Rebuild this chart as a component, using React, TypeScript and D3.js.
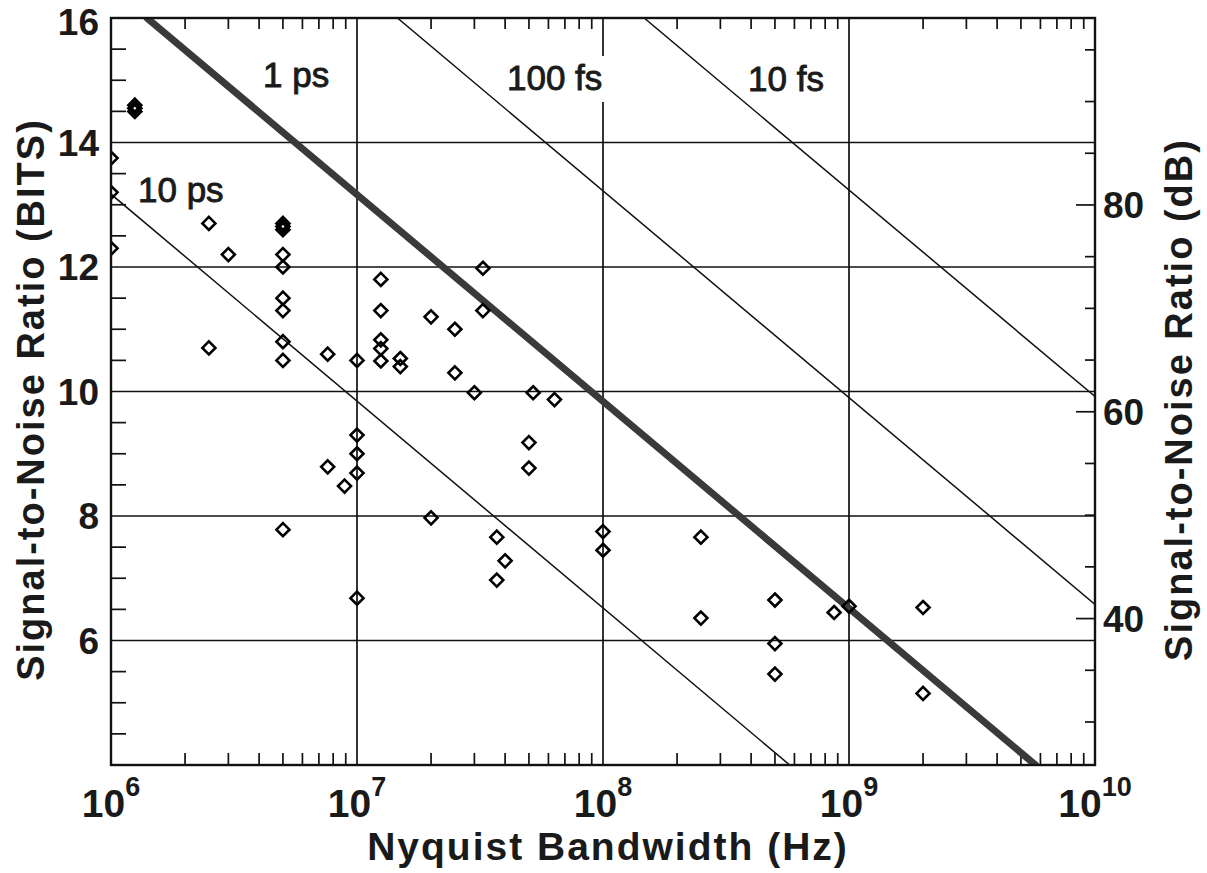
import React from 'react';
import * as d3 from 'd3';

// ---------- data ----------
const pointFreqHz = [
  1e6, 1e6, 1e6,
  1.25e6, 1.25e6, 1.25e6,
  2.5e6, 3e6, 2.5e6,
  5e6, 5e6, 5e6, 5e6, 5e6, 5e6, 5e6, 5e6, 5e6, 5e6,
  7.6e6, 7.6e6, 8.9e6,
  1e7, 1e7, 1e7, 1e7, 1e7,
  1.25e7, 1.25e7, 1.25e7, 1.25e7, 1.25e7,
  1.5e7, 1.5e7,
  2e7, 2e7,
  2.5e7, 2.5e7,
  3e7, 3.25e7, 3.25e7,
  3.7e7, 3.7e7, 4e7,
  5e7, 5e7, 5.2e7, 6.35e7,
  1e8, 1e8,
  2.5e8, 2.5e8,
  5e8, 5e8, 5e8,
  8.7e8, 1e9,
  2e9, 2e9,
];
const pointBits = [
  13.75, 13.2, 12.3,
  14.6, 14.5, 14.55,
  12.7, 12.2, 10.7,
  12.7, 12.65, 12.6, 12.2, 12.0, 11.5, 11.3, 10.8, 10.5, 7.78,
  10.6, 8.79, 8.48,
  10.5, 9.3, 9.0, 8.69, 6.68,
  11.8, 11.3, 10.83, 10.69, 10.49,
  10.53, 10.4,
  11.2, 7.97,
  11.0, 10.3,
  9.98, 11.98, 11.3,
  7.66, 6.97, 7.28,
  9.18, 8.77, 9.98, 9.87,
  7.75, 7.45,
  7.66, 6.36,
  6.65, 5.95, 5.46,
  6.45, 6.55,
  6.53, 5.15,
];

const jitterNames = ['10 ps', '1 ps', '100 fs', '10 fs'];
const jitterStartHz = [1e6, 1.4e6, 1.46e7, 1.47e8];
const jitterStartBits = [13.17, 16, 16, 16];
const jitterEndHz = [5.74e8, 5.73e9, 1e10, 1e10];
const jitterEndBits = [4, 4, 6.58, 9.92];

const bitTicks = [6, 8, 10, 12, 14, 16];
const decadeExponents = [6, 7, 8, 9, 10];
const dbMajorTicks = [40, 60, 80];
const dbMinorTicks = [30, 35, 45, 50, 55, 65, 70, 75, 85, 90, 95];

// ---------- layout ----------
const W = 1207;
const H = 873;
const X0 = 111;
const X1 = 1095;
const Y0 = 765;
const Y1 = 18;
const FONT = '"Liberation Sans", Arial, Helvetica, sans-serif';
const TICK_FS = 37;

const x = d3.scaleLog().domain([1e6, 1e10]).range([X0, X1]);
const y = d3.scaleLinear().domain([4, 16]).range([Y0, Y1]);
const dbToBits = (db: number) => (db - 1.76) / 6.02;

const labelPos: Record<string, { x: number; y: number; w: number }> = {
  '10 ps': { x: 138, y: 202, w: 98 },
  '1 ps': { x: 263, y: 87, w: 76 },
  '100 fs': { x: 507, y: 90, w: 104 },
  '10 fs': { x: 748, y: 91, w: 86 },
};

export default function App() {
  const minorX: number[] = [];
  for (let d = 6; d < 10; d++) for (let m = 2; m <= 9; m++) minorX.push(m * Math.pow(10, d));
  const minorBits = d3.range(4.5, 16, 0.5).filter((b) => b % 2 !== 0);
  const line = d3
    .line<[number, number]>()
    .x((p) => x(p[0]))
    .y((p) => y(p[1]));
  const diamond = (r: number) => `M0,${-r}L${r},0L0,${r}L${-r},0Z`;

  return (
    <svg
      width={W}
      height={H}
      style={{ position: 'absolute', left: 0, top: 0, background: '#fff' }}
      fontFamily={FONT}
    >
      <defs>
        <clipPath id="plot">
          <rect x={X0} y={Y1} width={X1 - X0} height={Y0 - Y1} />
        </clipPath>
      </defs>
      <rect x={0} y={0} width={W} height={H} fill="#fff" />

      {/* grid */}
      {bitTicks
        .filter((b) => b > 4 && b < 16)
        .map((b) => (
          <line key={'gh' + b} x1={X0} x2={X1} y1={y(b)} y2={y(b)} stroke="#111" strokeWidth={1.7} />
        ))}
      {[1e7, 1e8, 1e9].map((f) => (
        <line key={'gv' + f} x1={x(f)} x2={x(f)} y1={Y0} y2={Y1} stroke="#111" strokeWidth={1.7} />
      ))}

      {/* minor ticks */}
      {minorX.map((f) => (
        <g key={'mx' + f}>
          <line x1={x(f)} x2={x(f)} y1={Y0} y2={Y0 - 12} stroke="#111" strokeWidth={1.7} />
          <line x1={x(f)} x2={x(f)} y1={Y1} y2={Y1 + 11} stroke="#111" strokeWidth={1.7} />
        </g>
      ))}
      {minorBits.map((b) => (
        <line key={'mb' + b} x1={X0} x2={X0 + 15} y1={y(b)} y2={y(b)} stroke="#111" strokeWidth={1.7} />
      ))}
      {dbMinorTicks.map((db) => (
        <line key={'dm' + db} x1={X1} x2={X1 - 10} y1={y(dbToBits(db))} y2={y(dbToBits(db))} stroke="#111" strokeWidth={1.7} />
      ))}
      {dbMajorTicks.map((db) => (
        <line key={'dM' + db} x1={X1} x2={X1 - 19} y1={y(dbToBits(db))} y2={y(dbToBits(db))} stroke="#111" strokeWidth={1.7} />
      ))}

      {/* label backgrounds */}
      {jitterNames.map((n) => {
        const p = labelPos[n];
        return <rect key={'lb' + n} x={p.x - 3} y={p.y - 34} width={p.w} height={46} fill="#fff" />;
      })}

      {/* jitter lines */}
      <g clipPath="url(#plot)">
        {jitterNames.map((n, i) => (
          <path
            key={'jl' + n}
            d={line([
              [jitterStartHz[i], jitterStartBits[i]],
              [jitterEndHz[i], jitterEndBits[i]],
            ]) as string}
            fill="none"
            stroke={n === '1 ps' ? '#3a3a3a' : '#111'}
            strokeWidth={n === '1 ps' ? 7 : 1.5}
            strokeLinecap="round"
          />
        ))}
      </g>

      {jitterNames.map((n) => {
        const p = labelPos[n];
        return (
          <text key={'lt' + n} x={p.x} y={p.y} fontSize={35} fill="#1a1a1a" stroke="#1a1a1a" strokeWidth={0.9}>
            {n}
          </text>
        );
      })}

      {/* data points */}
      <g clipPath="url(#plot)">
        {pointFreqHz.map((f, i) => (
          <path
            key={'pt' + i}
            d={diamond(6.5)}
            transform={`translate(${x(f)},${y(pointBits[i])})`}
            fill="none"
            stroke="#000"
            strokeWidth={2.6}
          />
        ))}
      </g>

      {/* frame */}
      <rect x={X0} y={Y1} width={X1 - X0} height={Y0 - Y1} fill="none" stroke="#111" strokeWidth={2.4} />

      {/* left tick labels */}
      {bitTicks.map((b) => (
        <text
          key={'bl' + b}
          x={X0 - 12}
          y={Math.max(y(b) + 13, TICK_FS * 0.91 + 1)}
          textAnchor="end"
          fontSize={TICK_FS}
          fontWeight="bold"
          fill="#1a1a1a"
        >
          {b}
        </text>
      ))}
      {/* right tick labels */}
      {dbMajorTicks.map((db) => (
        <text key={'dl' + db} x={X1 + 8} y={y(dbToBits(db)) + 13} textAnchor="start" fontSize={TICK_FS} fontWeight="bold" fill="#1a1a1a">
          {db}
        </text>
      ))}
      {/* bottom tick labels */}
      {decadeExponents.map((e) => (
        <text key={'xl' + e} x={x(Math.pow(10, e))} y={817} textAnchor="middle" fontWeight="bold" fill="#1a1a1a">
          <tspan fontSize={39}>10</tspan>
          <tspan fontSize={27} dy={-21}>
            {e}
          </tspan>
        </text>
      ))}

      {/* axis titles */}
      <text x={(X0 + X1) / 2 + 5} y={860} textAnchor="middle" fontSize={39} fontWeight="bold" letterSpacing={2} fill="#1a1a1a">
        Nyquist Bandwidth (Hz)
      </text>
      <text
        transform={`translate(44, ${(Y0 + Y1) / 2 + 8}) rotate(-90)`}
        textAnchor="middle"
        fontSize={38}
        fontWeight="bold"
        letterSpacing={2}
        fill="#1a1a1a"
      >
        Signal-to-Noise Ratio (BITS)
      </text>
      <text
        transform={`translate(1192, ${(Y0 + Y1) / 2 + 8}) rotate(-90)`}
        textAnchor="middle"
        fontSize={38}
        fontWeight="bold"
        letterSpacing={2}
        fill="#1a1a1a"
      >
        Signal-to-Noise Ratio (dB)
      </text>
    </svg>
  );
}
